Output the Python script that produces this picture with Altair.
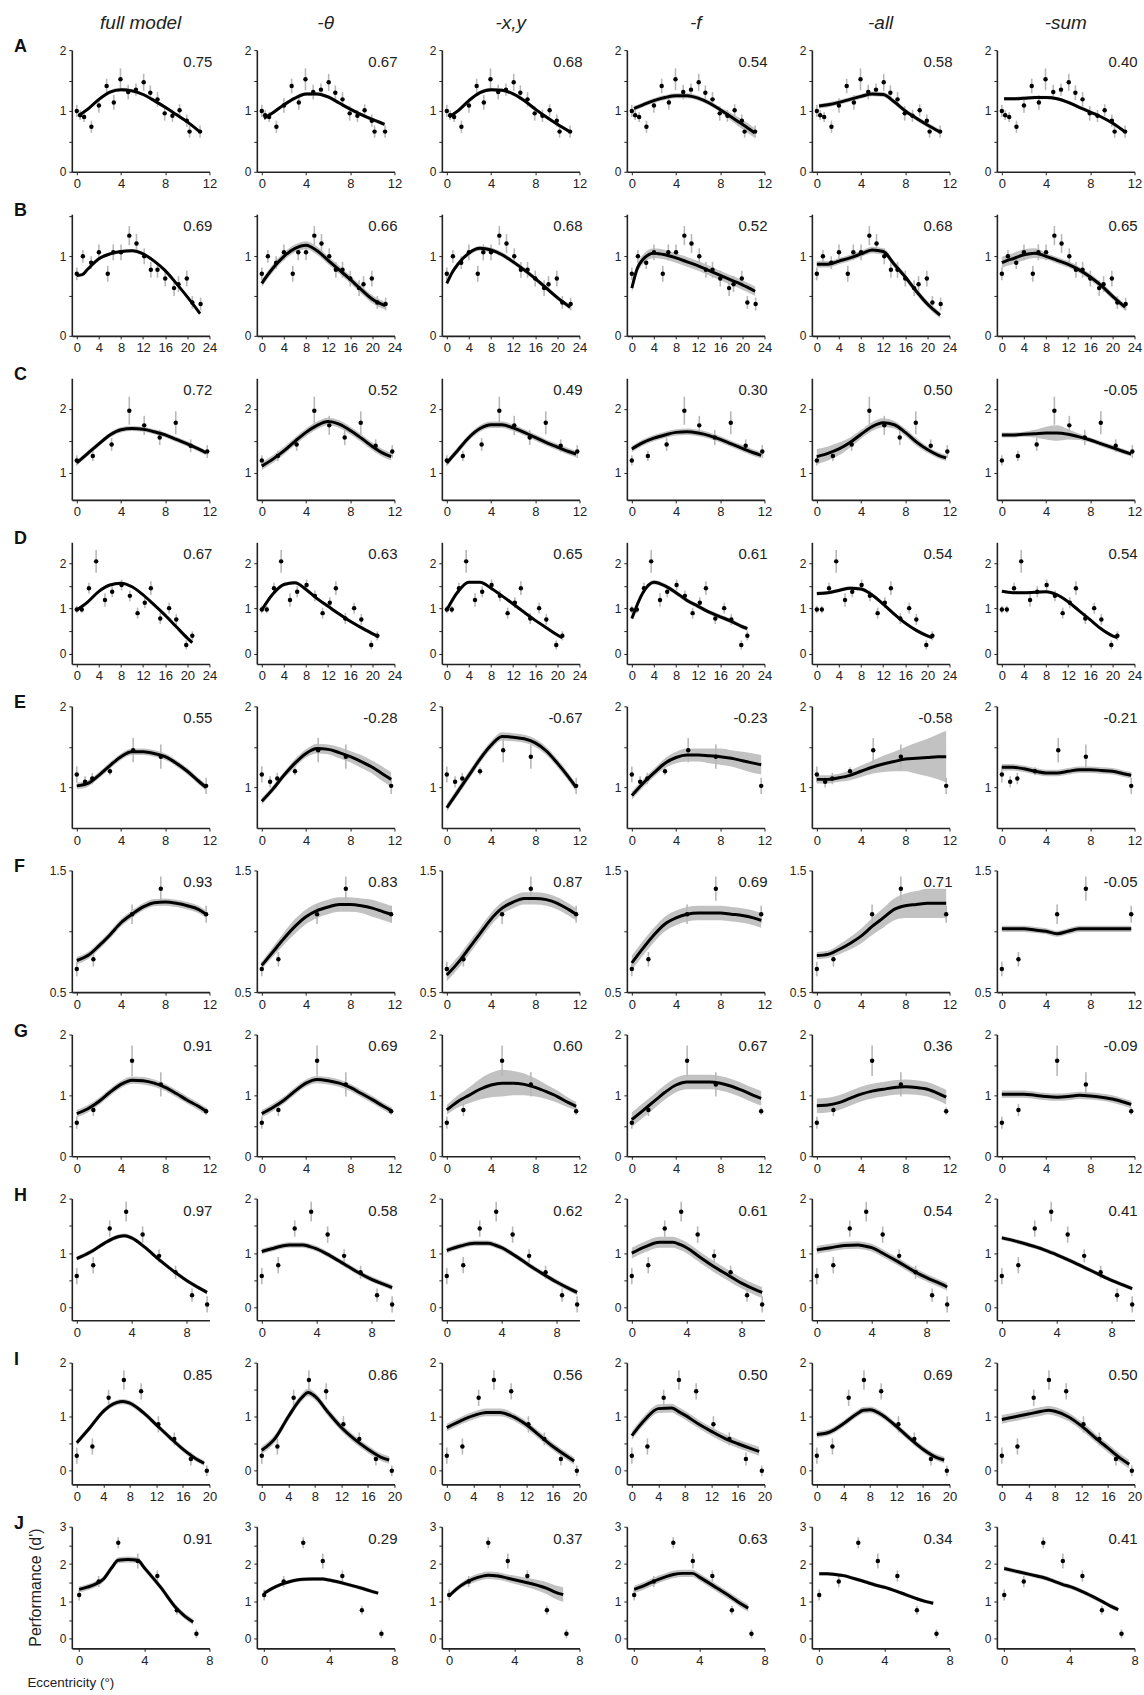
import altair as alt
import pandas as pd

COL_TITLES = ["full model", "-θ", "-x,y", "-f", "-all", "-sum"]
ROW_LETTERS = list("ABCDEFGHIJ")

CORR = [
    ["0.75", "0.67", "0.68", "0.54", "0.58", "0.40"],
    ["0.69", "0.66", "0.68", "0.52", "0.68", "0.65"],
    ["0.72", "0.52", "0.49", "0.30", "0.50", "-0.05"],
    ["0.67", "0.63", "0.65", "0.61", "0.54", "0.54"],
    ["0.55", "-0.28", "-0.67", "-0.23", "-0.58", "-0.21"],
    ["0.93", "0.83", "0.87", "0.69", "0.71", "-0.05"],
    ["0.91", "0.69", "0.60", "0.67", "0.36", "-0.09"],
    ["0.97", "0.58", "0.62", "0.61", "0.54", "0.41"],
    ["0.85", "0.86", "0.56", "0.50", "0.69", "0.50"],
    ["0.91", "0.29", "0.37", "0.63", "0.34", "0.41"],
]

X_MIN = [-0.45, -0.9, -0.45, -0.9, -0.45, -0.45, -0.45, -0.36, -0.75, -0.45]
X_MAX = [12, 24, 12, 24, 12, 12, 12, 9.67, 20, 8]
Y_MIN = [0, 0, 0.57, -0.22, 0.5, 0.5, 0, -0.23, -0.25, -0.26]
Y_MAX = [2, 1.53, 2.48, 2.46, 2.0, 1.5, 2, 2.0, 2.0, 3.0]
X_TICKS = [
    [0, 4, 8, 12], [0, 4, 8, 12, 16, 20, 24], [0, 4, 8, 12], [0, 4, 8, 12, 16, 20, 24],
    [0, 4, 8, 12], [0, 4, 8, 12], [0, 4, 8, 12], [0, 4, 8], [0, 4, 8, 12, 16, 20], [0, 4, 8],
]
Y_TICKS = [
    [0, 0.5, 1, 1.5, 2], [0, 0.5, 1, 1.5], [1, 1.5, 2], [0, 0.5, 1, 1.5, 2], [1, 1.5, 2],
    [0.5, 1, 1.5], [0, 0.5, 1, 1.5, 2], [0, 0.5, 1, 1.5, 2], [0, 0.5, 1, 1.5, 2],
    [0, 0.5, 1, 1.5, 2, 2.5, 3],
]

# observed data points (same in every column of a row)
PTS_X = [
    [0.0, 0.3, 0.66, 1.32, 2.0, 2.7, 3.35, 3.95, 4.65, 5.35, 6.05, 6.65, 7.3, 7.95, 8.65, 9.3, 9.95, 10.2, 11.15],
    [0, 1.1, 2.6, 4.0, 5.6, 6.6, 8.0, 9.5, 10.8, 12.2, 13.4, 14.6, 16.0, 17.6, 18.4, 19.9, 20.9, 22.4],
    [0, 1.45, 3.15, 4.75, 6.1, 7.5, 8.95, 10.3, 11.8],
    [0, 0.9, 2.2, 3.5, 5.1, 6.4, 8.1, 9.6, 11.0, 12.3, 13.4, 15.1, 16.7, 18.0, 19.8, 20.9],
    [0, 0.75, 1.4, 3.0, 5.1, 7.6, 11.7],
    [0, 1.5, 5.0, 7.6, 11.7],
    [0, 1.5, 5.0, 7.6, 11.7],
    [0, 1.2, 2.4, 3.6, 4.8, 6.0, 7.2, 8.4, 9.5],
    [0, 2.35, 4.8, 7.1, 9.7, 12.3, 14.7, 17.2, 19.6],
    [0, 1.2, 2.4, 3.6, 4.8, 6.0, 7.2],
]
PTS_Y = [
    [1.00, 0.93, 0.90, 0.74, 1.09, 1.41, 1.14, 1.52, 1.31, 1.35, 1.47, 1.30, 1.19, 0.96, 0.92, 1.01, 0.84, 0.66, 0.66],
    [0.78, 1.0, 0.92, 1.05, 0.78, 1.05, 1.05, 1.26, 1.16, 1.0, 0.83, 0.83, 0.72, 0.6, 0.65, 0.72, 0.42, 0.4],
    [1.19, 1.26, 1.44, 1.97, 1.74, 1.55, 1.78, 1.42, 1.33],
    [0.98, 0.98, 1.45, 2.04, 1.19, 1.37, 1.52, 1.28, 0.9, 1.13, 1.45, 0.78, 1.01, 0.76, 0.2, 0.4],
    [1.16, 1.07, 1.11, 1.2, 1.46, 1.38, 1.02],
    [0.69, 0.77, 1.14, 1.35, 1.14],
    [0.55, 0.76, 1.57, 1.18, 0.74],
    [0.58, 0.78, 1.45, 1.76, 1.34, 0.95, 0.65, 0.23, 0.06],
    [0.28, 0.45, 1.35, 1.68, 1.47, 0.86, 0.59, 0.22, 0.0],
    [1.17, 1.53, 2.57, 2.08, 1.68, 0.76, 0.13],
]
PTS_E = [
    [0.1, 0.08, 0.08, 0.1, 0.12, 0.12, 0.12, 0.18, 0.12, 0.1, 0.14, 0.12, 0.12, 0.12, 0.1, 0.1, 0.1, 0.1, 0.1],
    [0.08, 0.08, 0.08, 0.1, 0.1, 0.1, 0.1, 0.12, 0.12, 0.1, 0.1, 0.1, 0.1, 0.1, 0.1, 0.1, 0.08, 0.08],
    [0.08, 0.08, 0.1, 0.22, 0.15, 0.12, 0.18, 0.1, 0.1],
    [0.08, 0.08, 0.12, 0.25, 0.15, 0.12, 0.12, 0.12, 0.12, 0.12, 0.15, 0.12, 0.12, 0.12, 0.1, 0.1],
    [0.1, 0.07, 0.07, 0.05, 0.15, 0.15, 0.1],
    [0.06, 0.06, 0.08, 0.1, 0.07],
    [0.1, 0.1, 0.25, 0.2, 0.06],
    [0.15, 0.15, 0.15, 0.18, 0.15, 0.12, 0.12, 0.12, 0.15],
    [0.15, 0.15, 0.15, 0.18, 0.15, 0.15, 0.12, 0.12, 0.1],
    [0.15, 0.15, 0.15, 0.2, 0.15, 0.12, 0.12],
]

# model fits: knots per row, one y list per column, band half-width per column
CURVE_X = [
    [0.2, 1, 2, 3, 4, 5, 6, 7, 8, 9, 10, 11.1],
    [0, 1, 2, 4, 6, 8, 10, 12, 14, 16, 18, 20, 22.3],
    [0, 1, 2, 3, 4, 5, 6, 7, 8, 9, 10, 11, 11.7],
    [0, 2, 4, 6, 8, 10, 12, 14, 16, 18, 20, 20.9],
    [0, 1, 2, 3, 4, 5, 6, 7, 8, 9, 10, 11, 11.7],
    [0, 1, 2, 3, 4, 5, 6, 7, 8, 9, 10, 11, 11.7],
    [0, 1, 2, 3, 4, 5, 6, 7, 8, 9, 10, 11, 11.7],
    [0, 1, 2, 3, 3.5, 4, 5, 6, 7, 8, 9, 9.5],
    [0, 2, 4, 6, 7, 8, 10, 12, 14, 16, 18, 19.2],
    [0, 0.5, 1, 1.5, 2, 2.4, 3, 3.6, 4, 5, 6, 6.5, 7],
]
CURVE_Y = [
    [
        [0.93, 1.03, 1.19, 1.31, 1.35, 1.33, 1.27, 1.17, 1.06, 0.94, 0.82, 0.66],
        [0.88, 0.97, 1.1, 1.21, 1.28, 1.28, 1.23, 1.13, 1.03, 0.94, 0.86, 0.78],
        [0.9, 1.0, 1.17, 1.3, 1.35, 1.34, 1.28, 1.17, 1.03, 0.9, 0.78, 0.66],
        [1.04, 1.1, 1.17, 1.22, 1.25, 1.25, 1.21, 1.13, 1.02, 0.9, 0.78, 0.64],
        [1.08, 1.1, 1.14, 1.19, 1.24, 1.28, 1.27, 1.15, 1.0, 0.88, 0.77, 0.66],
        [1.2, 1.2, 1.21, 1.22, 1.22, 1.2, 1.14, 1.06, 0.98, 0.9, 0.8, 0.66],
    ],
    [
        [0.76, 0.77, 0.84, 0.97, 1.03, 1.06, 1.07, 1.03, 0.94, 0.82, 0.66, 0.49, 0.28],
        [0.66, 0.76, 0.85, 1.0, 1.1, 1.14, 1.07, 0.95, 0.83, 0.71, 0.58, 0.46, 0.38],
        [0.66, 0.8, 0.9, 1.04, 1.1, 1.08, 1.02, 0.93, 0.83, 0.72, 0.6, 0.48, 0.36],
        [0.6, 0.85, 0.96, 1.04, 1.02, 0.98, 0.93, 0.88, 0.82, 0.76, 0.7, 0.64, 0.56],
        [0.9, 0.9, 0.9, 0.94, 0.98, 1.03, 1.08, 1.06, 0.9, 0.74, 0.56, 0.4, 0.26],
        [0.92, 0.95, 0.97, 1.02, 1.04, 1.0, 0.95, 0.9, 0.83, 0.74, 0.63, 0.5, 0.36],
    ],
    [
        [1.15, 1.3, 1.45, 1.59, 1.67, 1.69, 1.68, 1.64, 1.59, 1.52, 1.45, 1.37, 1.31],
        [1.1, 1.21, 1.34, 1.49, 1.63, 1.74, 1.8, 1.76, 1.66, 1.54, 1.41, 1.3, 1.25],
        [1.15, 1.35, 1.55, 1.69, 1.75, 1.75, 1.7, 1.63, 1.55, 1.47, 1.4, 1.33, 1.29],
        [1.37, 1.47, 1.54, 1.59, 1.63, 1.64, 1.62, 1.58, 1.52, 1.45, 1.38, 1.31, 1.27],
        [1.25, 1.3, 1.37, 1.47, 1.6, 1.72, 1.78, 1.75, 1.63, 1.48, 1.36, 1.27, 1.23],
        [1.59, 1.59, 1.6, 1.61, 1.62, 1.62, 1.6, 1.56, 1.51, 1.45, 1.39, 1.33, 1.29],
    ],
    [
        [0.97, 1.15, 1.38, 1.52, 1.56, 1.48, 1.3, 1.08, 0.85, 0.6, 0.35, 0.25],
        [0.97, 1.32, 1.53, 1.57, 1.42, 1.22, 1.05, 0.88, 0.72, 0.58, 0.45, 0.4],
        [0.97, 1.37, 1.58, 1.58, 1.45, 1.28, 1.1, 0.92, 0.74, 0.58, 0.42, 0.36],
        [0.78, 1.35, 1.58, 1.5, 1.35, 1.18, 1.05, 0.92, 0.82, 0.72, 0.6, 0.56],
        [1.33, 1.35, 1.4, 1.45, 1.43, 1.3, 1.1, 0.88, 0.68, 0.52, 0.4, 0.36],
        [1.38, 1.35, 1.35, 1.36, 1.37, 1.3, 1.15, 0.95, 0.75, 0.55, 0.4, 0.36],
    ],
    [
        [1.02, 1.05, 1.15, 1.27, 1.38, 1.44, 1.44, 1.42, 1.38, 1.3, 1.2, 1.08, 1.0],
        [0.83, 0.98, 1.15, 1.3, 1.42, 1.48, 1.47, 1.43, 1.38, 1.32, 1.25, 1.16, 1.1],
        [0.75, 0.95, 1.15, 1.35, 1.52, 1.63, 1.62, 1.6, 1.55, 1.45, 1.3, 1.13, 1.0],
        [0.9, 1.05, 1.18, 1.3, 1.37, 1.4, 1.4, 1.39, 1.38, 1.36, 1.33, 1.3, 1.28],
        [1.1, 1.1, 1.12, 1.15, 1.2, 1.25, 1.29, 1.32, 1.35, 1.36, 1.37, 1.38, 1.38],
        [1.25, 1.25, 1.23, 1.2, 1.18, 1.18, 1.2, 1.22, 1.22, 1.21, 1.2, 1.17, 1.15],
    ],
    [
        [0.76, 0.8, 0.88, 0.97, 1.07, 1.14, 1.2, 1.235, 1.24, 1.23, 1.21, 1.18, 1.14],
        [0.72, 0.83, 0.94, 1.04, 1.12, 1.17, 1.2, 1.22, 1.22, 1.21, 1.19, 1.16, 1.14],
        [0.64, 0.74, 0.86, 0.98, 1.1, 1.19, 1.24, 1.27, 1.27, 1.26, 1.23, 1.18, 1.14],
        [0.74, 0.86, 0.97, 1.06, 1.11, 1.14, 1.15, 1.15, 1.15, 1.14, 1.13, 1.11, 1.09],
        [0.8, 0.81, 0.85, 0.9, 0.96, 1.04, 1.11, 1.18, 1.21, 1.22, 1.23, 1.23, 1.23],
        [1.02, 1.02, 1.02, 1.01, 1.0, 0.98, 1.0, 1.02, 1.02, 1.02, 1.02, 1.02, 1.02],
    ],
    [
        [0.7, 0.78, 0.9, 1.05, 1.18, 1.25, 1.24, 1.2, 1.13, 1.03, 0.92, 0.82, 0.74],
        [0.7, 0.8, 0.92, 1.07, 1.2, 1.26, 1.24, 1.2, 1.13, 1.03, 0.93, 0.82, 0.75],
        [0.76, 0.9, 1.0, 1.1, 1.17, 1.2, 1.2, 1.18, 1.13, 1.06, 0.98, 0.88, 0.82],
        [0.6, 0.75, 0.9, 1.05, 1.17, 1.22, 1.22, 1.22, 1.2, 1.15, 1.08, 1.0, 0.95],
        [0.83, 0.84, 0.88, 0.95, 1.02, 1.07, 1.1, 1.13, 1.14, 1.13, 1.1, 1.03, 0.97],
        [1.02, 1.02, 1.02, 1.0, 0.98, 0.97, 0.98, 1.0, 0.99, 0.97, 0.94, 0.89, 0.85],
    ],
    [
        [0.9, 1.02, 1.18, 1.3, 1.32, 1.28, 1.1, 0.88, 0.68, 0.5, 0.35, 0.28],
        [1.03, 1.1, 1.15, 1.15, 1.12, 1.08, 0.95, 0.8, 0.65, 0.52, 0.42, 0.37],
        [1.05, 1.13, 1.18, 1.18, 1.15, 1.1, 0.95, 0.78, 0.62, 0.47, 0.34, 0.28],
        [1.0, 1.12, 1.2, 1.2, 1.16, 1.1, 0.92, 0.75, 0.6, 0.45, 0.33, 0.28],
        [1.06, 1.1, 1.14, 1.15, 1.13, 1.1, 0.97, 0.83, 0.68, 0.55, 0.44, 0.38],
        [1.28, 1.22, 1.15, 1.07, 1.02, 0.97, 0.86, 0.74, 0.62, 0.5, 0.4, 0.35],
    ],
    [
        [0.52, 0.8, 1.1, 1.26, 1.28, 1.25, 1.08, 0.85, 0.62, 0.4, 0.22, 0.14],
        [0.38, 0.6, 1.0, 1.35, 1.45, 1.38, 1.08, 0.8, 0.58, 0.4, 0.25, 0.2],
        [0.8, 0.92, 1.02, 1.08, 1.08, 1.08, 1.0, 0.85, 0.65, 0.45, 0.28, 0.18],
        [0.65, 0.95, 1.15, 1.16, 1.1, 1.03, 0.87, 0.73, 0.6, 0.5, 0.41, 0.36],
        [0.67, 0.72, 0.87, 1.05, 1.12, 1.13, 1.02, 0.82, 0.6, 0.4, 0.25, 0.2],
        [0.95, 1.0, 1.05, 1.1, 1.12, 1.1, 1.0, 0.83, 0.62, 0.42, 0.22, 0.12],
    ],
    [
        [1.32, 1.38, 1.46, 1.6, 1.9, 2.1, 2.12, 2.1, 1.9, 1.38, 0.8, 0.6, 0.45],
        [1.22, 1.35, 1.45, 1.52, 1.57, 1.59, 1.6, 1.6, 1.57, 1.47, 1.35, 1.28, 1.22],
        [1.15, 1.35, 1.5, 1.6, 1.67, 1.7, 1.68, 1.62, 1.58, 1.48, 1.35, 1.25, 1.18],
        [1.32, 1.4, 1.5, 1.59, 1.67, 1.72, 1.75, 1.75, 1.65, 1.38, 1.1, 0.95, 0.82],
        [1.74, 1.74, 1.72, 1.69, 1.63, 1.58, 1.5, 1.42, 1.38, 1.23, 1.07, 1.0, 0.95],
        [1.88, 1.83, 1.78, 1.73, 1.68, 1.64, 1.55, 1.45, 1.4, 1.22, 1.0, 0.88, 0.78],
    ],
]
BAND = [
    [0.03, 0.03, 0.03, [0.04] * 9 + [0.06, 0.08, 0.08], 0.04, 0.03],
    [0.02, 0.05, 0.03, 0.06, 0.04, [0.07, 0.07, 0.07, 0.07, 0.06] + [0.04] * 8],
    [0.04, 0.06, 0.05, 0.05, [0.12, 0.11, 0.1, 0.08, 0.07, 0.07, 0.07, 0.06, 0.06, 0.06, 0.05, 0.05, 0.05], [0.04, 0.04, 0.04, 0.06, 0.1, 0.12, 0.08, 0.05, 0.04, 0.04, 0.04, 0.04, 0.04]],
    [0.03, 0.04, 0.03, 0.05, 0.04, 0.03],
    [0.04, [0.04, 0.04, 0.04, 0.05, 0.05, 0.06, 0.06, 0.07, 0.07, 0.08, 0.08, 0.09, 0.09], 0.05,
     [0.05, 0.05, 0.05, 0.06, 0.07, 0.08, 0.08, 0.09, 0.1, 0.1, 0.11, 0.12, 0.12],
     [0.05, 0.05, 0.05, 0.06, 0.07, 0.08, 0.1, 0.12, 0.15, 0.19, 0.23, 0.28, 0.32], 0.04],
    [0.03, [0.03, 0.04, 0.05, 0.06, 0.06, 0.06, 0.06, 0.06, 0.06, 0.06, 0.07, 0.07, 0.07], 0.05, 0.06,
     [0.03, 0.03, 0.04, 0.05, 0.06, 0.07, 0.08, 0.09, 0.1, 0.11, 0.12, 0.12, 0.12], 0.025],
    [0.06, 0.06, [0.08, 0.1, 0.13, 0.17, 0.2, 0.22, 0.2, 0.18, 0.15, 0.12, 0.1, 0.08, 0.07], 0.12, 0.12, 0.06],
    [0.04, 0.05, 0.05, 0.1, 0.07, 0.04],
    [0.05, 0.07, 0.07, 0.08, 0.06, 0.08],
    [0.08, 0.05, [0.06, 0.07, 0.08, 0.1, 0.1, 0.1, 0.1, 0.1, 0.11, 0.13, 0.16, 0.18, 0.2], 0.1, 0.05, 0.06],
]

W, H = 138, 122
FONT = "Liberation Sans"
INK = "#222222"


def panel(r, c):
    xs = alt.Scale(domain=[X_MIN[r], X_MAX[r]], nice=False, zero=False)
    ys = alt.Scale(domain=[Y_MIN[r], Y_MAX[r]], nice=False, zero=False)
    xaxis = alt.Axis(values=X_TICKS[r], title=None, labelFontSize=13, labelFont=FONT,
                     labelColor=INK, domainColor=INK, domainWidth=1.6, tickColor=INK,
                     tickSize=3, labelPadding=3, grid=False, labelFlush=False)
    if r == 5:
        lab = "datum.value == 1 ? '' : format(datum.value, '.1f')"
    else:
        lab = "datum.value % 1 == 0 ? format(datum.value, 'd') : ''"
    yaxis = alt.Axis(values=Y_TICKS[r], title=None, labelFontSize=12, labelFont=FONT,
                     labelColor=INK, domainColor=INK, domainWidth=1.6, tickColor=INK,
                     tickSize=3, labelPadding=3, grid=False, labelExpr=lab, labelFlush=False)

    e = PTS_E[r]
    pts = pd.DataFrame({
        "x": PTS_X[r], "y": PTS_Y[r],
        "lo": [v - d for v, d in zip(PTS_Y[r], e)],
        "hi": [v + d for v, d in zip(PTS_Y[r], e)],
    })
    cx = CURVE_X[r]
    cy = CURVE_Y[r][c]
    bw = BAND[r][c]
    if not isinstance(bw, list):
        bw = [bw] * len(cx)
    cur = pd.DataFrame({
        "x": cx, "y": cy,
        "lo": [v - d for v, d in zip(cy, bw)],
        "hi": [v + d for v, d in zip(cy, bw)],
    })

    X = lambda f: alt.X(f, type="quantitative", scale=xs, axis=xaxis)
    Y = lambda f: alt.Y(f, type="quantitative", scale=ys, axis=yaxis)

    layers = [
        alt.Chart(cur).mark_area(color="#c2c2c2", interpolate="monotone", opacity=1).encode(
            x=X("x"), y=Y("lo"), y2="hi"),
        alt.Chart(pts).mark_rule(color="#b8b8b8", strokeWidth=1.6).encode(
            x=X("x"), y=Y("lo"), y2="hi"),
        alt.Chart(cur).mark_line(color="#000000", strokeWidth=3, interpolate="monotone").encode(
            x=X("x"), y=Y("y")),
        alt.Chart(pts).mark_circle(color="#000000", size=20, opacity=1).encode(
            x=X("x"), y=Y("y")),
        alt.Chart(pd.DataFrame({"t": [CORR[r][c]]})).mark_text(
            align="right", baseline="alphabetic", fontSize=15, font=FONT, color=INK).encode(
            x=alt.value(W + 3), y=alt.value(17), text="t:N"),
    ]
    if r == 0:
        layers.append(alt.Chart(pd.DataFrame({"t": [COL_TITLES[c]]})).mark_text(
            align="center", baseline="alphabetic", fontSize=19, fontStyle="italic",
            font=FONT, color=INK).encode(x=alt.value(W / 2), y=alt.value(-21), text="t:N"))
    if c == 0:
        layers.append(alt.Chart(pd.DataFrame({"t": [ROW_LETTERS[r]]})).mark_text(
            align="left", baseline="alphabetic", fontSize=18, fontWeight="bold",
            font=FONT, color="#111111").encode(x=alt.value(-58), y=alt.value(2), text="t:N"))
    if r == 0 and c == 0:
        layers.append(alt.Chart(pd.DataFrame({"a": [0]})).mark_rule(
            color="#ffffff", strokeWidth=1).encode(
            x=alt.value(-71), x2=alt.value(-70), y=alt.value(-47.5)))
    if r == 9 and c == 0:
        layers.append(alt.Chart(pd.DataFrame({"t": ["Performance (d')"]})).mark_text(
            align="center", baseline="middle", fontSize=16, angle=270, font=FONT,
            color=INK).encode(x=alt.value(-35.5), y=alt.value(61), text="t:N"))
        layers.append(alt.Chart(pd.DataFrame({"t": ["Eccentricity (°)"]})).mark_text(
            align="center", baseline="alphabetic", fontSize=13.5, font=FONT,
            color=INK).encode(x=alt.value(-1), y=alt.value(161), text="t:N"))
    return alt.layer(*layers).properties(width=W, height=H)


panels = [panel(r, c) for r in range(10) for c in range(6)]

chart = alt.concat(
    *panels, columns=6, spacing={"row": 42.5, "column": 47.5}, bounds="flush"
).properties(
    padding={"left": 0, "top": 0, "right": 2, "bottom": 2}
).configure_view(strokeWidth=0).configure_axis(grid=False)

chart.save("out.html", embed_options={"renderer": "svg", "actions": False})
